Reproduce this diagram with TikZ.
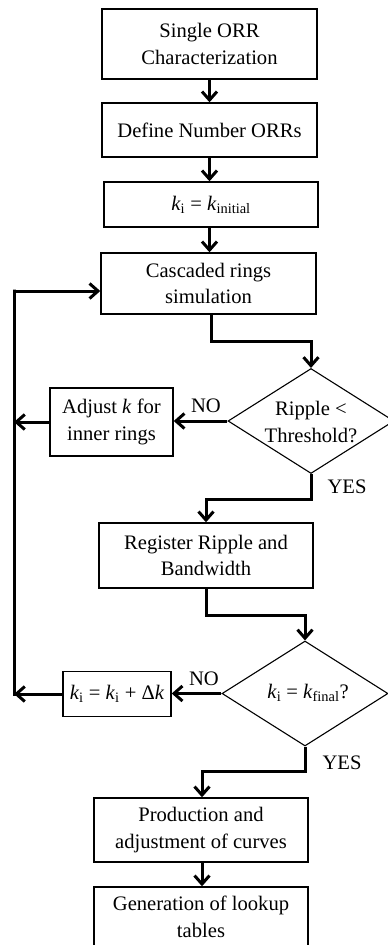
\documentclass[tikz,border=0pt]{standalone}
\usepackage{fontspec}
\setmainfont{Liberation Serif}
\usetikzlibrary{arrows.meta,shapes.geometric}
\begin{document}
\begin{tikzpicture}[x=1pt,y=-1pt,
  font=\fontsize{20.6}{26.5}\selectfont,
  box/.style={draw, line width=1.4pt, rectangle, align=center, inner sep=0pt},
  dia/.style={draw, line width=1.1pt, shape=diamond, inner sep=0pt, aspect=1.58,
              minimum width=166pt, minimum height=105pt},
  conn/.style={line width=3pt, -{Straight Barb[length=8.5pt,width=15pt]}},
  plain/.style={line width=3pt},
  lbl/.style={inner sep=0pt}]
\useasboundingbox (0,0) rectangle (388,945);
\begin{scope}
\clip (0,0) rectangle (388,945);
% process boxes
\node[box, minimum width=215pt, minimum height=70pt] (b1) at (209.5,44) {Single ORR\\Characterization};
\node[box, minimum width=215pt, minimum height=54pt] (b2) at (209.5,130) {Define Number ORRs};
\node[box, minimum width=214pt, minimum height=45pt] (b3) at (211,204.5) {\textit{k}\textsubscript{i} = \textit{k}\textsubscript{initial}};
\node[box, minimum width=215pt, minimum height=61pt] (b4) at (208.5,283.5) {Cascaded rings\\simulation};
\node[dia] (d1) at (311,421) {};
\node[lbl, align=center] (t1) at (311,422) {Ripple <\\Threshold?};
\node[box, minimum width=123pt, minimum height=68pt] (adj) at (111.5,422) {Adjust \textit{k} for\\inner rings};
\node[box, minimum width=214pt, minimum height=65pt] (reg) at (206,555.5) {Register Ripple and\\Bandwidth};
\node[dia] (d2) at (305,693.5) {};
\node[lbl] (t2) at (308,693) {\textit{k}\textsubscript{i} = \textit{k}\textsubscript{final}?};
\node[box, minimum width=108pt, minimum height=45pt] (kb) at (117,694) {\textit{k}\textsubscript{i} = \textit{k}\textsubscript{i} + Δ\textit{k}};
\node[box, minimum width=214pt, minimum height=64pt] (prod) at (201,830) {Production and\\adjustment of curves};
\node[box, minimum width=214pt, minimum height=60pt] (gen) at (201,917) {Generation of lookup\\tables};
% labels
\node[lbl] (no1) at (206,406) {NO};
\node[lbl] (yes1) at (347,487) {YES};
\node[lbl] (no2) at (204,679) {NO};
\node[lbl] (yes2) at (342,763) {YES};
% loop coordinates
\coordinate (lt) at (14,291);
\coordinate (lb) at (14,694);
% connectors
\draw[conn] (b1.south) -- (b2.north);
\draw[conn] (b2.south) -- (b2.south |- b3.north);
\draw[conn] (b3.south -| b2.south) -- (b2.south |- b4.north);
\draw[conn] ([xshift=2.5pt]b4.south) -- ++(0,27) -| (d1.north);
\draw[conn] (d1.west) -- (d1.west -| adj.east);
\draw[conn] (adj.west) -- (adj.west -| lb);
\draw[conn] (d1.south) -- ++(0,25) -| (reg.north);
\draw[conn] (reg.south) -- ++(0,27) -| (d2.north);
\draw[conn] (d2.west) -- (d2.west -| kb.east);
\draw[conn] (kb.west) -- (lb);
\draw[plain] ([yshift=-1.5pt]lb) -- ([yshift=1.5pt]lt) -- (lt);
\draw[conn] (lt) -- (lt -| b4.west);
\draw[conn] (d2.south) -- ++(0,25) -| ([xshift=1pt]prod.north);
\draw[conn] ([xshift=1pt]prod.south) -- ([xshift=1pt]gen.north);
\end{scope}
\end{tikzpicture}
\end{document}
